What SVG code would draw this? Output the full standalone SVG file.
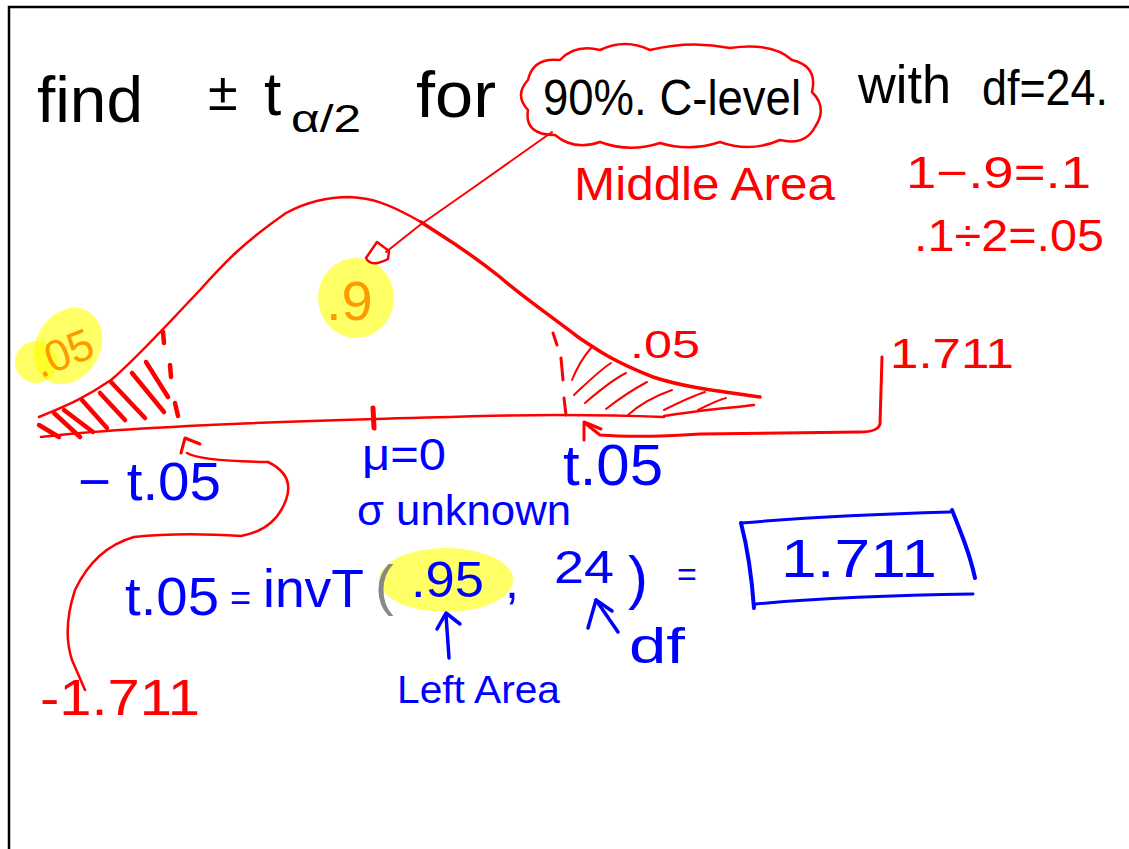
<svg xmlns="http://www.w3.org/2000/svg" width="1129" height="849" viewBox="0 0 1129 849">
<style>
.t{font-family:"Liberation Sans","DejaVu Sans",sans-serif;}
.k{fill:#000;}
.r{fill:#ff0000;}
.b{fill:#0000ff;}
.o{fill:#ff9900;}
.rs{fill:none;stroke:#ff0000;stroke-linecap:round;stroke-linejoin:round;}
.bs{fill:none;stroke:#0000ff;stroke-linecap:round;stroke-linejoin:round;}
.hl{fill:#ffff00;opacity:0.6;}
</style>
<rect x="0" y="0" width="1129" height="849" fill="#fff"/>
<g id="frame">
<path d="M9,849 L9,7 L1129,7" fill="none" stroke="#000" stroke-width="2.5"/>
</g>

<g id="title">
<text class="t k" x="37" y="122" font-size="64" textLength="106" lengthAdjust="spacingAndGlyphs">find</text>
<text class="t k" x="208" y="110" font-size="54">±</text>
<text class="t k" x="264" y="115" font-size="62">t</text>
<text class="t k" x="291" y="132" font-size="38" textLength="70" lengthAdjust="spacingAndGlyphs">α/2</text>
<text class="t k" x="416" y="117" font-size="64" textLength="80" lengthAdjust="spacingAndGlyphs">for</text>
<text class="t k" x="543" y="115" font-size="50" textLength="258" lengthAdjust="spacingAndGlyphs">90%. C-level</text>
<text class="t k" x="858" y="103" font-size="54" textLength="93" lengthAdjust="spacingAndGlyphs">with</text>
<text class="t k" x="982" y="105" font-size="50" textLength="126" lengthAdjust="spacingAndGlyphs">df=24.</text>
</g>

<g id="cloud">
<path class="rs" stroke-width="2.5" d="M528,80 Q533,57 560,60 Q575,44 600,50 Q625,38 650,50 Q690,40 730,48 Q772,42 792,60 Q818,66 812,92 Q828,108 815,127 Q805,146 780,140 Q750,153 720,142 Q690,152 660,143 Q630,153 600,142 Q574,151 555,135 Q524,135 528,110 Q514,95 528,80 Z"/>
</g>

<g id="notes">
<text class="t r" x="574" y="200" font-size="46" textLength="261" lengthAdjust="spacingAndGlyphs">Middle Area</text>
<text class="t r" x="906" y="188" font-size="44" textLength="185" lengthAdjust="spacingAndGlyphs">1−.9=.1</text>
<text class="t r" x="914" y="251" font-size="44" textLength="190" lengthAdjust="spacingAndGlyphs">.1÷2=.05</text>
</g>

<g id="highlights">
<ellipse class="hl" cx="68" cy="346" rx="32" ry="40" transform="rotate(30 68 346)"/>
<circle class="hl" cx="36" cy="362" r="21"/>
<ellipse class="hl" cx="356" cy="298" rx="38" ry="40"/>
<ellipse class="hl" cx="446" cy="580" rx="67" ry="32"/>
</g>

<g id="bell-curve">
<path class="rs" stroke-width="2.5" d="M39,417 C60,408 82,400 111,380 C135,360 160,332 200,290 C225,262 243,243 286,213 C310,200 330,197 350,197 C370,198 386,202 421,222"/>
<path class="rs" stroke-width="3.5" d="M421,222 C440,235 457,243 500,277 C520,295 540,308 578,337 C600,352 615,362 653,377 C680,386 709,390 760,397"/>
<path class="rs" stroke-width="2.5" d="M41,437 C100,430 200,424 375,419 C450,417 500,415 557,415 C600,415 640,416 664,417"/>
<path class="rs" stroke-width="2.5" d="M664,416 C700,410 730,408 754,405"/>
<path class="rs" stroke-width="5" d="M373,408 L374,428"/>
</g>

<g id="left-tail">
<g class="rs" stroke-width="4.5">
<path d="M39,425 L59,437"/>
<path d="M54,413 L80,437"/>
<path d="M64,410 L93,432"/>
<path d="M82,400 L107,428"/>
<path d="M100,393 L125,420"/>
<path d="M111,382 L145,418"/>
<path d="M132,373 L164,412"/>
<path d="M146,362 L168,397"/>
<path d="M163,332 L164,343"/>
<path d="M170,365 L171,377"/>
<path d="M175,403 L178,416"/>
</g>
<text class="t o" x="30" y="368" font-size="44" transform="rotate(-22 62 346)">.05</text>
</g>

<g id="right-tail">
<g class="rs" stroke-width="2">
<path d="M553,333 L557,345" stroke-width="3"/>
<path d="M561,358 L563,380" stroke-width="3"/>
<path d="M564,398 L566,415" stroke-width="3"/>
<path d="M572,380 C578,365 585,355 591,348"/>
<path d="M574,395 C590,380 600,370 611,363"/>
<path d="M585,403 C600,390 612,380 626,373"/>
<path d="M606,409 C620,398 632,390 647,382"/>
<path d="M628,415 C640,404 655,396 672,390"/>
<path d="M664,410 C680,402 692,396 705,392"/>
<path d="M698,410 C710,404 718,400 726,398"/>
</g>
<text class="t r" x="630" y="358" font-size="38" textLength="70" lengthAdjust="spacingAndGlyphs">.05</text>
</g>

<g id="center-label">
<text class="t o" x="326" y="320" font-size="56">.9</text>
</g>

<g id="connectors">
<path class="rs" stroke-width="2" d="M552,132 L470,190 L420,225 L386,252"/>
<path class="rs" stroke-width="2.5" d="M389,251 L377,242 L366,258 Q371,268 388,259 Z"/>
<path class="rs" stroke-width="3" d="M882,357 L880,424 Q878,432 860,432 L700,434 Q640,438 600,435 L586,424"/>
<path class="rs" stroke-width="3" d="M584,440 L584,422 L601,429"/>
<path class="rs" stroke-width="2.5" d="M187,453 Q200,461 268,462 Q295,475 286,500 Q275,530 241,536 Q180,532 134,537 Q95,548 75,590 Q62,630 72,660 L85,690"/>
<path class="rs" stroke-width="3" d="M181,453 L185,438 L200,444"/>
<path class="bs" stroke-width="3.5" d="M449,658 L446,615"/>
<path class="bs" stroke-width="3.5" d="M437,629 L446,613 L460,624"/>
<path class="bs" stroke-width="3.5" d="M596,600 L618,632"/>
<path class="bs" stroke-width="3.5" d="M588,628 L596,600 L612,611"/>
</g>

<g id="labels">
<text class="t r" x="890" y="368" font-size="42" textLength="124" lengthAdjust="spacingAndGlyphs">1.711</text>
<text class="t r" x="40" y="715" font-size="50" textLength="160" lengthAdjust="spacingAndGlyphs">-1.711</text>
<text class="t b" x="78" y="500" font-size="54" textLength="143" lengthAdjust="spacingAndGlyphs">− t.05</text>
<text class="t b" x="563" y="485" font-size="58" textLength="100" lengthAdjust="spacingAndGlyphs">t.05</text>
<text class="t b" x="362" y="470" font-size="44" textLength="84" lengthAdjust="spacingAndGlyphs">μ=0</text>
<text class="t b" x="357" y="525" font-size="42" textLength="214" lengthAdjust="spacingAndGlyphs">σ unknown</text>
</g>

<g id="equation">
<text class="t b" x="125" y="615" font-size="54" textLength="94" lengthAdjust="spacingAndGlyphs">t.05</text>
<text class="t b" x="230" y="610" font-size="36">=</text>
<text class="t b" x="263" y="607" font-size="54" textLength="101" lengthAdjust="spacingAndGlyphs">invT</text>
<text class="t" fill="#888" x="375" y="604" font-size="56">(</text>
<text class="t b" x="411" y="597" font-size="50" textLength="73" lengthAdjust="spacingAndGlyphs">.95</text>
<text class="t b" x="505" y="598" font-size="50">,</text>
<text class="t b" x="554" y="583" font-size="46" textLength="60" lengthAdjust="spacingAndGlyphs">24</text>
<text class="t b" x="628" y="598" font-size="60">)</text>
<text class="t b" x="677" y="586" font-size="34">=</text>
<text class="t b" x="629" y="663" font-size="50" textLength="56" lengthAdjust="spacingAndGlyphs">df</text>
<text class="t b" x="397" y="703" font-size="38" textLength="163" lengthAdjust="spacingAndGlyphs">Left Area</text>
</g>

<g id="answer-box">
<path class="bs" stroke-width="3" d="M741,523 C800,518 880,514 950,512"/>
<path class="bs" stroke-width="4" d="M741,523 C748,550 752,580 754,608"/>
<path class="bs" stroke-width="3" d="M756,604 C820,598 900,595 973,594"/>
<path class="bs" stroke-width="4" d="M952,510 C962,535 970,555 975,578"/>
<text class="t b" x="781" y="577" font-size="54" textLength="156" lengthAdjust="spacingAndGlyphs">1.711</text>
</g>
</svg>
